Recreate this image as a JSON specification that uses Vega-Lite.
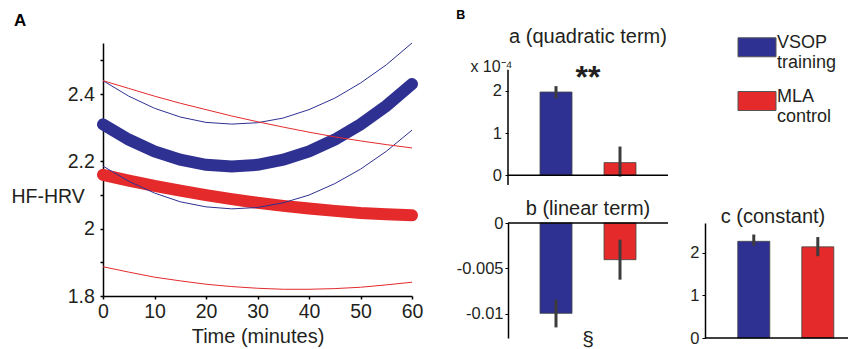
{
  "$schema": "https://vega.github.io/schema/vega-lite/v6.json",
  "padding": {"left": 10, "top": 9, "right": 0, "bottom": 0},
  "config": {
    "font": "Liberation Sans",
    "view": {"stroke": null},
    "axis": {"labelColor": "#231f20", "titleColor": "#231f20", "domainColor": "#000000", "tickColor": "#000000", "grid": false, "labelFont": "Liberation Sans", "titleFont": "Liberation Sans"},
    "title": {"color": "#231f20", "font": "Liberation Sans"},
    "text": {"color": "#231f20"}
  },
  "datasets": {
    "curves": [
      {"group": "VSOP training", "curve": "fit", "minutes": 0, "hfhrv": 2.31},
      {"group": "VSOP training", "curve": "fit", "minutes": 5, "hfhrv": 2.265},
      {"group": "VSOP training", "curve": "fit", "minutes": 10, "hfhrv": 2.23},
      {"group": "VSOP training", "curve": "fit", "minutes": 15, "hfhrv": 2.205},
      {"group": "VSOP training", "curve": "fit", "minutes": 20, "hfhrv": 2.19},
      {"group": "VSOP training", "curve": "fit", "minutes": 25, "hfhrv": 2.185},
      {"group": "VSOP training", "curve": "fit", "minutes": 30, "hfhrv": 2.19},
      {"group": "VSOP training", "curve": "fit", "minutes": 35, "hfhrv": 2.205},
      {"group": "VSOP training", "curve": "fit", "minutes": 40, "hfhrv": 2.23},
      {"group": "VSOP training", "curve": "fit", "minutes": 45, "hfhrv": 2.265},
      {"group": "VSOP training", "curve": "fit", "minutes": 50, "hfhrv": 2.31},
      {"group": "VSOP training", "curve": "fit", "minutes": 55, "hfhrv": 2.365},
      {"group": "VSOP training", "curve": "fit", "minutes": 60, "hfhrv": 2.43},
      {"group": "VSOP training", "curve": "upper", "minutes": 0, "hfhrv": 2.44},
      {"group": "VSOP training", "curve": "upper", "minutes": 5, "hfhrv": 2.394},
      {"group": "VSOP training", "curve": "upper", "minutes": 10, "hfhrv": 2.358},
      {"group": "VSOP training", "curve": "upper", "minutes": 15, "hfhrv": 2.332},
      {"group": "VSOP training", "curve": "upper", "minutes": 20, "hfhrv": 2.316},
      {"group": "VSOP training", "curve": "upper", "minutes": 25, "hfhrv": 2.311},
      {"group": "VSOP training", "curve": "upper", "minutes": 30, "hfhrv": 2.315},
      {"group": "VSOP training", "curve": "upper", "minutes": 35, "hfhrv": 2.329},
      {"group": "VSOP training", "curve": "upper", "minutes": 40, "hfhrv": 2.354},
      {"group": "VSOP training", "curve": "upper", "minutes": 45, "hfhrv": 2.388},
      {"group": "VSOP training", "curve": "upper", "minutes": 50, "hfhrv": 2.433},
      {"group": "VSOP training", "curve": "upper", "minutes": 55, "hfhrv": 2.487},
      {"group": "VSOP training", "curve": "upper", "minutes": 60, "hfhrv": 2.552},
      {"group": "VSOP training", "curve": "lower", "minutes": 0, "hfhrv": 2.186},
      {"group": "VSOP training", "curve": "lower", "minutes": 5, "hfhrv": 2.141},
      {"group": "VSOP training", "curve": "lower", "minutes": 10, "hfhrv": 2.106},
      {"group": "VSOP training", "curve": "lower", "minutes": 15, "hfhrv": 2.08},
      {"group": "VSOP training", "curve": "lower", "minutes": 20, "hfhrv": 2.065},
      {"group": "VSOP training", "curve": "lower", "minutes": 25, "hfhrv": 2.059},
      {"group": "VSOP training", "curve": "lower", "minutes": 30, "hfhrv": 2.063},
      {"group": "VSOP training", "curve": "lower", "minutes": 35, "hfhrv": 2.077},
      {"group": "VSOP training", "curve": "lower", "minutes": 40, "hfhrv": 2.1},
      {"group": "VSOP training", "curve": "lower", "minutes": 45, "hfhrv": 2.134},
      {"group": "VSOP training", "curve": "lower", "minutes": 50, "hfhrv": 2.177},
      {"group": "VSOP training", "curve": "lower", "minutes": 55, "hfhrv": 2.23},
      {"group": "VSOP training", "curve": "lower", "minutes": 60, "hfhrv": 2.293},
      {"group": "MLA control", "curve": "fit", "minutes": 0, "hfhrv": 2.16},
      {"group": "MLA control", "curve": "fit", "minutes": 5, "hfhrv": 2.143},
      {"group": "MLA control", "curve": "fit", "minutes": 10, "hfhrv": 2.127},
      {"group": "MLA control", "curve": "fit", "minutes": 15, "hfhrv": 2.113},
      {"group": "MLA control", "curve": "fit", "minutes": 20, "hfhrv": 2.1},
      {"group": "MLA control", "curve": "fit", "minutes": 25, "hfhrv": 2.088},
      {"group": "MLA control", "curve": "fit", "minutes": 30, "hfhrv": 2.077},
      {"group": "MLA control", "curve": "fit", "minutes": 35, "hfhrv": 2.068},
      {"group": "MLA control", "curve": "fit", "minutes": 40, "hfhrv": 2.06},
      {"group": "MLA control", "curve": "fit", "minutes": 45, "hfhrv": 2.053},
      {"group": "MLA control", "curve": "fit", "minutes": 50, "hfhrv": 2.047},
      {"group": "MLA control", "curve": "fit", "minutes": 55, "hfhrv": 2.043},
      {"group": "MLA control", "curve": "fit", "minutes": 60, "hfhrv": 2.04},
      {"group": "MLA control", "curve": "upper", "minutes": 0, "hfhrv": 2.44},
      {"group": "MLA control", "curve": "upper", "minutes": 5, "hfhrv": 2.417},
      {"group": "MLA control", "curve": "upper", "minutes": 10, "hfhrv": 2.394},
      {"group": "MLA control", "curve": "upper", "minutes": 15, "hfhrv": 2.373},
      {"group": "MLA control", "curve": "upper", "minutes": 20, "hfhrv": 2.354},
      {"group": "MLA control", "curve": "upper", "minutes": 25, "hfhrv": 2.335},
      {"group": "MLA control", "curve": "upper", "minutes": 30, "hfhrv": 2.318},
      {"group": "MLA control", "curve": "upper", "minutes": 35, "hfhrv": 2.302},
      {"group": "MLA control", "curve": "upper", "minutes": 40, "hfhrv": 2.287},
      {"group": "MLA control", "curve": "upper", "minutes": 45, "hfhrv": 2.273},
      {"group": "MLA control", "curve": "upper", "minutes": 50, "hfhrv": 2.261},
      {"group": "MLA control", "curve": "upper", "minutes": 55, "hfhrv": 2.25},
      {"group": "MLA control", "curve": "upper", "minutes": 60, "hfhrv": 2.24},
      {"group": "MLA control", "curve": "lower", "minutes": 0, "hfhrv": 1.887},
      {"group": "MLA control", "curve": "lower", "minutes": 5, "hfhrv": 1.871},
      {"group": "MLA control", "curve": "lower", "minutes": 10, "hfhrv": 1.856},
      {"group": "MLA control", "curve": "lower", "minutes": 15, "hfhrv": 1.845},
      {"group": "MLA control", "curve": "lower", "minutes": 20, "hfhrv": 1.835},
      {"group": "MLA control", "curve": "lower", "minutes": 25, "hfhrv": 1.828},
      {"group": "MLA control", "curve": "lower", "minutes": 30, "hfhrv": 1.823},
      {"group": "MLA control", "curve": "lower", "minutes": 35, "hfhrv": 1.82},
      {"group": "MLA control", "curve": "lower", "minutes": 40, "hfhrv": 1.82},
      {"group": "MLA control", "curve": "lower", "minutes": 45, "hfhrv": 1.822},
      {"group": "MLA control", "curve": "lower", "minutes": 50, "hfhrv": 1.826},
      {"group": "MLA control", "curve": "lower", "minutes": 55, "hfhrv": 1.833},
      {"group": "MLA control", "curve": "lower", "minutes": 60, "hfhrv": 1.841}
    ],
    "quadratic": [
      {"group": "VSOP training", "estimate": 1.97, "lower": 1.82, "upper": 2.11},
      {"group": "MLA control", "estimate": 0.3, "lower": -0.03, "upper": 0.68}
    ],
    "linear": [
      {"group": "VSOP training", "estimate": -0.00998, "lower": -0.01153, "upper": -0.00847},
      {"group": "MLA control", "estimate": -0.00405, "lower": -0.00626, "upper": -0.00184}
    ],
    "constant": [
      {"group": "VSOP training", "estimate": 2.27, "lower": 2.17, "upper": 2.43},
      {"group": "MLA control", "estimate": 2.14, "lower": 1.92, "upper": 2.37}
    ],
    "groups": [
      {"group": "VSOP training"},
      {"group": "MLA control"}
    ]
  },
  "spacing": 20,
  "hconcat": [
    {
      "width": 309,
      "height": 253,
      "title": {"text": "A", "anchor": "start", "frame": "bounds", "fontSize": 17, "fontWeight": "bold", "baseline": "alphabetic", "offset": -2, "dx": 3, "color": "#000000"},
      "data": {"name": "curves"},
      "encoding": {
        "x": {"field": "minutes", "type": "quantitative", "scale": {"domain": [0, 60], "nice": false},
          "axis": {"values": [0, 10, 20, 30, 40, 50, 60], "title": "Time (minutes)", "labelFontSize": 19.5, "titleFontSize": 20, "titleFontWeight": "normal", "tickSize": 3, "labelPadding": 3, "titlePadding": 6, "domainWidth": 1.5, "tickWidth": 1.5, "labelFlush": false}},
        "y": {"field": "hfhrv", "type": "quantitative", "scale": {"domain": [1.8, 2.552], "nice": false, "zero": false},
          "axis": {"values": [1.8, 1.9, 2.0, 2.1, 2.2, 2.3, 2.4, 2.5], "labelExpr": "abs(datum.value*5 - round(datum.value*5)) < 0.01 ? format(datum.value, '~g') : ''", "title": "HF-HRV", "titleAngle": 0, "titleAlign": "right", "titleBaseline": "middle", "titleX": -18.7, "titleY": 153, "titleFontSize": 19.5, "titleFontWeight": "normal", "labelFontSize": 19.5, "tickSize": 3, "labelPadding": 5.7, "domainWidth": 1.5, "tickWidth": 1.5}},
        "stroke": {"field": "group", "type": "nominal", "scale": {"domain": ["VSOP training", "MLA control"], "range": ["#2e3192", "#e52a2b"]}, "legend": null},
        "detail": {"field": "curve"}
      },
      "layer": [
        {"transform": [{"filter": "datum.curve == 'fit'"}], "mark": {"type": "line", "strokeWidth": 12, "strokeCap": "round"}},
        {"transform": [{"filter": "datum.curve != 'fit'"}], "mark": {"type": "line", "strokeWidth": 1}}
      ]
    },
    {
      "title": {"text": "B", "anchor": "start", "frame": "bounds", "fontSize": 12.5, "fontWeight": "bold", "baseline": "alphabetic", "offset": -4.5, "color": "#000000"},
      "spacing": 13,
      "vconcat": [
        {
          "spacing": 67,
          "hconcat": [
            {
              "width": 160,
              "height": 142,
              "title": {"text": "a (quadratic term)", "fontSize": 20, "fontWeight": "normal", "baseline": "alphabetic", "offset": -20},
              "resolve": {"scale": {"x": "independent"}},
              "layer": [
                {
                  "data": {"name": "quadratic"},
                  "mark": {"type": "bar", "stroke": "#444444", "strokeWidth": 0.8},
                  "encoding": {
                    "x": {"field": "group", "type": "nominal", "sort": null, "scale": {"type": "band", "domain": ["VSOP training", "MLA control"], "paddingInner": 0.5, "paddingOuter": 0.5}, "axis": null},
                    "y": {"field": "estimate", "type": "quantitative", "scale": {"domain": [-0.23, 3.13], "nice": false, "zero": false},
                      "axis": {"values": [0, 0.5, 1, 1.5, 2], "labelExpr": "datum.value % 1 == 0 ? format(datum.value, 'd') : ''", "domain": false, "title": "x 10⁻⁴", "titleAngle": 0, "titleAlign": "right", "titleBaseline": "alphabetic", "titleX": 4, "titleY": 28, "titleFontSize": 16, "titleFontWeight": "normal", "labelFontSize": 16.5, "tickSize": 3, "labelPadding": 3.5, "tickWidth": 1}},
                    "fill": {"field": "group", "type": "nominal", "scale": {"domain": ["VSOP training", "MLA control"], "range": ["#2e3192", "#e52a2b"]}, "legend": null}
                  }
                },
                {
                  "data": {"name": "quadratic"},
                  "mark": {"type": "rule", "color": "#3c3c3c", "strokeWidth": 3},
                  "encoding": {
                    "x": {"field": "group", "type": "nominal", "sort": null, "scale": {"type": "band", "domain": ["VSOP training", "MLA control"], "paddingInner": 0.5, "paddingOuter": 0.5}, "axis": null},
                    "y": {"field": "lower", "type": "quantitative"},
                    "y2": {"field": "upper"}
                  }
                },
                {
                  "data": {"values": [{"level": 0}]},
                  "mark": {"type": "rule", "color": "#000000", "strokeWidth": 1.5},
                  "encoding": {"y": {"field": "level", "type": "quantitative"}}
                },
                {
                  "data": {"values": [{"edge": 0, "bottom": -0.23, "top": 2.5}]},
                  "mark": {"type": "rule", "color": "#000000", "strokeWidth": 1.5},
                  "encoding": {
                    "x": {"field": "edge", "type": "quantitative", "scale": {"domain": [0, 1], "nice": false}, "axis": null},
                    "y": {"field": "bottom", "type": "quantitative"},
                    "y2": {"field": "top"}
                  }
                },
                {
                  "data": {"values": [{"note": "**", "level": 2.07}]},
                  "mark": {"type": "text", "fontSize": 32, "fontWeight": "bold", "baseline": "alphabetic", "align": "center", "color": "#231f20"},
                  "encoding": {"text": {"field": "note"}, "y": {"field": "level", "type": "quantitative"}}
                }
              ]
            },
            {
              "width": 38,
              "height": 62.3,
              "data": {"name": "groups"},
              "encoding": {
                "y": {"field": "group", "type": "nominal", "sort": null, "scale": {"type": "point", "domain": ["VSOP training", "MLA control"], "padding": 0.08}, "axis": null}
              },
              "layer": [
                {
                  "mark": {"type": "point", "shape": "M-1,-0.5H1V0.5H-1Z", "size": 1444, "filled": true, "opacity": 1, "stroke": "#555555", "strokeWidth": 1},
                  "encoding": {"fill": {"field": "group", "type": "nominal", "scale": {"domain": ["VSOP training", "MLA control"], "range": ["#2e3192", "#e52a2b"]}, "legend": null}}
                },
                {
                  "mark": {"type": "text", "align": "left", "baseline": "middle", "dx": 20, "dy": -4.5, "fontSize": 18, "lineHeight": 20.5, "lineBreak": " ", "color": "#231f20"},
                  "encoding": {"text": {"field": "group"}}
                }
              ]
            }
          ]
        },
        {
          "spacing": 20,
          "hconcat": [
            {
              "width": 160,
              "height": 115,
              "title": {"text": "b (linear term)", "fontSize": 20, "fontWeight": "normal", "baseline": "alphabetic", "offset": -20},
              "layer": [
                {
                  "data": {"name": "linear"},
                  "mark": {"type": "bar", "stroke": "#444444", "strokeWidth": 0.8},
                  "encoding": {
                    "x": {"field": "group", "type": "nominal", "sort": null, "scale": {"type": "band", "domain": ["VSOP training", "MLA control"], "paddingInner": 0.5, "paddingOuter": 0.5}, "axis": null},
                    "y": {"field": "estimate", "type": "quantitative", "scale": {"domain": [-0.0127, 0], "nice": false},
                      "axis": {"values": [0, -0.005, -0.01], "labelExpr": "datum.value == 0 ? '0' : datum.value < -0.0075 ? '-0.01' : '-0.005'", "title": null, "labelFontSize": 16.5, "tickSize": 3, "labelPadding": 2, "domainWidth": 1.5, "tickWidth": 1}},
                    "fill": {"field": "group", "type": "nominal", "scale": {"domain": ["VSOP training", "MLA control"], "range": ["#2e3192", "#e52a2b"]}, "legend": null}
                  }
                },
                {
                  "data": {"name": "linear"},
                  "mark": {"type": "rule", "color": "#3c3c3c", "strokeWidth": 3},
                  "encoding": {
                    "x": {"field": "group", "type": "nominal", "sort": null, "scale": {"type": "band", "domain": ["VSOP training", "MLA control"], "paddingInner": 0.5, "paddingOuter": 0.5}, "axis": null},
                    "y": {"field": "lower", "type": "quantitative"},
                    "y2": {"field": "upper"}
                  }
                },
                {
                  "data": {"values": [{"level": 0}]},
                  "mark": {"type": "rule", "color": "#000000", "strokeWidth": 1.5},
                  "encoding": {"y": {"field": "level", "type": "quantitative"}}
                },
                {
                  "data": {"values": [{"note": "§", "level": -0.0129}]},
                  "mark": {"type": "text", "fontSize": 21, "baseline": "middle", "align": "center", "color": "#231f20"},
                  "encoding": {"text": {"field": "note"}, "y": {"field": "level", "type": "quantitative"}}
                }
              ]
            },
            {
              "width": 146,
              "height": 115,
              "title": {"text": "c (constant)", "fontSize": 20, "fontWeight": "normal", "baseline": "alphabetic", "offset": -20, "dx": -5},
              "layer": [
                {
                  "data": {"name": "constant"},
                  "mark": {"type": "bar", "stroke": "#444444", "strokeWidth": 0.8},
                  "encoding": {
                    "x": {"field": "group", "type": "nominal", "sort": null, "scale": {"type": "band", "domain": ["VSOP training", "MLA control"], "paddingInner": 0.5, "paddingOuter": 0.39, "align": 0.656}, "axis": null},
                    "y": {"field": "estimate", "type": "quantitative", "scale": {"domain": [0, 2.7], "nice": false},
                      "axis": {"values": [0, 1, 2], "title": null, "labelFontSize": 16.5, "tickSize": 3, "labelPadding": 3, "domainWidth": 1.5, "tickWidth": 1}},
                    "fill": {"field": "group", "type": "nominal", "scale": {"domain": ["VSOP training", "MLA control"], "range": ["#2e3192", "#e52a2b"]}, "legend": null}
                  }
                },
                {
                  "data": {"name": "constant"},
                  "mark": {"type": "rule", "color": "#3c3c3c", "strokeWidth": 3},
                  "encoding": {
                    "x": {"field": "group", "type": "nominal", "sort": null, "scale": {"type": "band", "domain": ["VSOP training", "MLA control"], "paddingInner": 0.5, "paddingOuter": 0.39, "align": 0.656}, "axis": null},
                    "y": {"field": "lower", "type": "quantitative"},
                    "y2": {"field": "upper"}
                  }
                },
                {
                  "data": {"values": [{"level": 0}]},
                  "mark": {"type": "rule", "color": "#000000", "strokeWidth": 1.5},
                  "encoding": {"y": {"field": "level", "type": "quantitative"}}
                }
              ]
            }
          ]
        }
      ]
    }
  ]
}
